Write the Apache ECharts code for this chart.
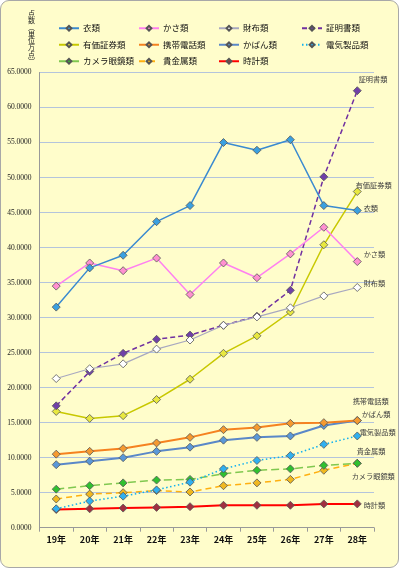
<!DOCTYPE html>
<html>
<head>
<meta charset="utf-8">
<script src="https://cdn.jsdelivr.net/npm/echarts@6/dist/echarts.min.js"></script>
<style>
html,body{margin:0;padding:0;background:#ffffff;}
#bg{position:absolute;left:0;top:0;width:397px;height:566px;border:1px solid #a8a8a8;border-radius:9px;background:#fffdcb;}
#chart{position:absolute;left:0;top:0;width:400px;height:569px;}
</style>
</head>
<body>
<div id="bg"></div>
<div id="chart"></div>
<script>
// ---- data ----
const categories = ['19年','20年','21年','22年','23年','24年','25年','26年','27年','28年'];
const seriesNames = ['衣類','かさ類','財布類','証明書類','有価証券類','携帯電話類','かばん類','電気製品類','カメラ眼鏡類','貴金属類','時計類'];
const clothes     = [31.5, 37.1, 38.9, 43.7, 46.0, 55.0, 53.9, 55.4, 46.0, 45.3];
const umbrellas   = [34.5, 37.8, 36.7, 38.5, 33.3, 37.8, 35.7, 39.1, 42.9, 38.0];
const wallets     = [21.3, 22.7, 23.4, 25.5, 26.8, 28.9, 30.1, 31.4, 33.1, 34.3];
const certificates= [17.4, 22.3, 24.9, 26.9, 27.5, 28.9, 30.2, 33.9, 50.1, 62.4];
const securities  = [16.6, 15.6, 16.0, 18.3, 21.2, 24.9, 27.4, 30.8, 40.4, 48.0];
const phones      = [10.5, 10.9, 11.3, 12.1, 12.9, 14.0, 14.3, 14.9, 15.0, 15.3];
const bags        = [9.0, 9.5, 10.0, 10.9, 11.5, 12.5, 12.9, 13.1, 14.6, 15.3];
const electrics   = [2.7, 3.8, 4.5, 5.4, 6.5, 8.4, 9.6, 10.3, 11.9, 13.1];
const cameras     = [5.5, 6.0, 6.4, 6.8, 6.9, 7.7, 8.2, 8.4, 8.9, 9.2];
const preciousMetals = [4.1, 4.8, 5.0, 5.3, 5.1, 6.0, 6.4, 6.9, 8.2, 9.2];
const watches     = [2.6, 2.7, 2.8, 2.9, 3.0, 3.2, 3.2, 3.2, 3.4, 3.4];
const yTitle = '点数︵単位万点︶';

const seriesValues = [clothes, umbrellas, wallets, certificates, securities, phones, bags, electrics, cameras, preciousMetals, watches];

// ---- styles ----
const styles = [
  {line:'#3a8ad0', fill:'#3aa0e0', type:'solid', w:1.5, off:[-3,-2]},
  {line:'#ff80f0', fill:'#ff90d0', type:'solid', w:1.5, off:[-3,-7]},
  {line:'#a8a8c0', fill:'#ffffff', type:'solid', w:1.2, off:[-3,-4]},
  {line:'#7030a0', fill:'#7040a8', type:[5,3], w:1.5, off:[-8,-11]},
  {line:'#c8c800', fill:'#e8e840', type:'solid', w:1.5, off:[-11,-6]},
  {line:'#f58220', fill:'#f59a30', type:'solid', w:2, off:[-14,-19]},
  {line:'#5a88c8', fill:'#5a98d8', type:'solid', w:2, off:[-5,-6]},
  {line:'#10b0f0', fill:'#30b0f0', type:[1.5,2.5], w:1.5, off:[-7,-4]},
  {line:'#80c850', fill:'#30c030', type:[8,4], w:1.5, off:[-15,13]},
  {line:'#ffb010', fill:'#f0b820', type:[6,4], w:1.5, off:[-10,-12]},
  {line:'#ff0000', fill:'#a03040', type:'solid', w:2, off:[-3,1]}
];

const series = seriesNames.map((name, i) => {
  const st = styles[i];
  const vals = seriesValues[i];
  return {
    name: name,
    type: 'line',
    symbol: 'diamond',
    symbolSize: 8,
    z: 20 - i,
    lineStyle: {color: st.line, width: st.w, type: st.type},
    itemStyle: {color: st.fill, borderColor: '#555', borderWidth: 0.8},
    emphasis: {disabled: true},
    data: vals.map((v, j) => j === vals.length - 1 ? {
      value: v,
      label: {show: true, position: 'right', offset: st.off, formatter: name,
              fontSize: 7.2, color: '#404040', fontFamily: 'Noto Sans CJK JP'}
    } : v)
  };
});

// legend columns
const legendCols = [[0,4,8],[1,5,9],[2,6,10],[3,7]];
const legendLefts = [53, 133, 213, 296];
const legends = legendCols.map((col, k) => ({
  orient: 'vertical',
  left: legendLefts[k],
  top: 19,
  itemWidth: 20,
  itemHeight: 6,
  itemGap: 8,
  selectedMode: false,
  data: col.map(i => seriesNames[i]),
  textStyle: {fontSize: 8.5, color: '#111', fontFamily: 'Noto Sans CJK JP', padding: [0,0,0,-1]}
}));

const chart = echarts.init(document.getElementById('chart'), null, {renderer: 'canvas'});
chart.setOption({
  animation: false,
  backgroundColor: 'transparent',
  legend: legends,
  grid: {left: 39.5, right: 26, top: 72.5, bottom: 41.3, containLabel: false},
  xAxis: {
    type: 'category',
    data: categories,
    boundaryGap: true,
    axisLine: {lineStyle: {color: '#999', width: 1}},
    axisTick: {show: true, length: 4, lineStyle: {color: '#999'}},
    axisLabel: {fontSize: 9, color: '#111', fontFamily: 'Noto Sans CJK JP', margin: 7, fontWeight: 'bold'}
  },
  yAxis: {
    type: 'value',
    min: 0, max: 65, interval: 5,
    axisLine: {show: true, lineStyle: {color: '#999'}},
    axisTick: {show: false},
    splitLine: {lineStyle: {color: '#b4c4dc', width: 1}},
    axisLabel: {fontSize: 7.5, color: '#222', fontFamily: 'Liberation Serif', margin: 8,
                formatter: v => v.toFixed(4)}
  },
  graphic: [{
    type: 'text',
    left: 28, top: 10,
    style: {text: yTitle.split('').join('\n'), fontSize: 7, lineHeight: 6.8,
            fill: '#222', fontFamily: 'Noto Sans CJK JP', align: 'center'}
  }],
  series: series
});
</script>
</body>
</html>
